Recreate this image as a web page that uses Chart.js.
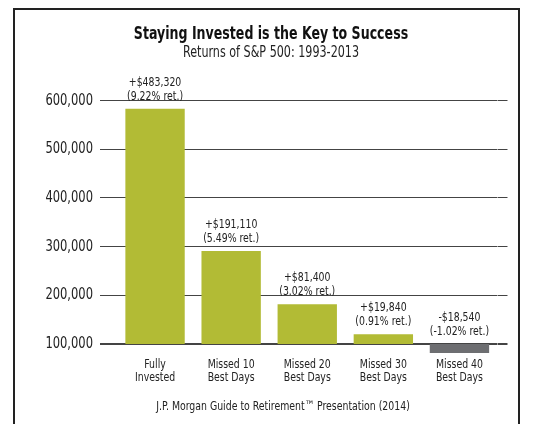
<!DOCTYPE html>
<html>
<head>
<meta charset="utf-8">
<script src="https://cdn.jsdelivr.net/npm/chart.js@4.4.1/dist/chart.umd.min.js"></script>
<style>
  body { margin: 0; background: #fff; }
  #frame { position: absolute; left: 13px; top: 8px; width: 503px; height: 440px; border: 2px solid #222; }
  #c { position: absolute; left: 0; top: 0; }
  #note { position: absolute; left: 0; width: 566px; top: 398px; text-align: center; color: #222;
          font: 13px 'Liberation Sans Narrow', 'DejaVu Sans Condensed', sans-serif;
          transform: scaleX(0.8); transform-origin: 283px 0; }
</style>
</head>
<body>
<div id="frame"></div>
<canvas id="c" width="542" height="424"></canvas>
<div id="note">J.P. Morgan Guide to Retirement™ Presentation (2014)</div>
<script>
// data
const categories = [['Fully', 'Invested'], ['Missed 10', 'Best Days'], ['Missed 20', 'Best Days'], ['Missed 30', 'Best Days'], ['Missed 40', 'Best Days']];
const gains = [483320, 191110, 81400, 19840, -18540];
const annualReturns = ['9.22%', '5.49%', '3.02%', '0.91%', '-1.02%'];
const startValue = 100000;
const yTickValues = [100000, 200000, 300000, 400000, 500000, 600000];

const FONT = "'Liberation Sans Narrow', 'DejaVu Sans Condensed', sans-serif";
const GREEN = '#b2bb35';
const GREY = '#6d6e71';
const SQUEEZE = 0.8; // no narrow font here, so squeeze the text a bit

// bars float from the starting 100,000
const barData = gains.map(g => [startValue, startValue + g]);
const barColors = gains.map(g => g >= 0 ? GREEN : GREY);

function money(g) {
    return (g >= 0 ? '+' : '-') + '$' + Math.abs(g).toLocaleString('en-US');
}

// makes every text on the canvas a bit narrower, keeps its anchor point
const condensed = {
    id: 'condensed',
    beforeDraw(chart) {
        const ctx = chart.ctx;
        if (ctx._squeezed) return;
        const orig = ctx.fillText;
        ctx.fillText = function (t, x, y, mw) {
            this.save();
            this.translate(x, y);
            this.scale(SQUEEZE, 1);
            orig.call(this, t, 0, 0, mw);
            this.restore();
        };
        ctx._squeezed = true;
    }
};

// two line labels above every bar
const barLabels = {
    id: 'barLabels',
    afterDatasetsDraw(chart) {
        const ctx = chart.ctx;
        const meta = chart.getDatasetMeta(0);
        ctx.save();
        ctx.font = '13px ' + FONT;
        ctx.fillStyle = '#222';
        ctx.textAlign = 'center';
        meta.data.forEach((bar, i) => {
            const top = Math.min(bar.y, bar.base);
            ctx.fillText(money(gains[i]), bar.x, top - 23);
            ctx.fillText('(' + annualReturns[i] + ' ret.)', bar.x, top - 9);
        });
        ctx.restore();
    }
};

function fixTicks(scale) {
    scale.ticks = yTickValues.map(v => ({ value: v }));
}

new Chart(document.getElementById('c'), {
    type: 'bar',
    data: {
        labels: categories,
        datasets: [{
            data: barData,
            backgroundColor: barColors,
            borderWidth: 0,
            categoryPercentage: 1,
            barPercentage: 0.78
        }]
    },
    options: {
        responsive: false,
        animation: false,
        layout: { padding: { left: 0, right: 0, top: 0, bottom: 0 } },
        plugins: {
            legend: { display: false },
            tooltip: { enabled: false },
            title: {
                display: true,
                text: 'Staying Invested is the Key to Success',
                color: '#111',
                font: { family: FONT, size: 17.5, weight: 'bold', lineHeight: 1.2 },
                padding: { top: 23.5, bottom: 0 }
            },
            subtitle: {
                display: true,
                text: 'Returns of S&P 500: 1993-2013',
                color: '#222',
                font: { family: FONT, size: 15.5, lineHeight: 1.1 },
                padding: { top: 0, bottom: 8 }
            }
        },
        scales: {
            x: {
                grid: { display: false },
                border: { display: false },
                ticks: {
                    color: '#222',
                    padding: -4,
                    maxRotation: 0,
                    font: { family: FONT, size: 13, lineHeight: 0.93 }
                },
                afterFit: s => { s.height = 69; }
            },
            y: {
                min: 77400,
                max: 663800,
                afterBuildTicks: fixTicks,
                border: { display: false },
                grid: {
                    color: '#444',
                    lineWidth: c => (c.tick && c.tick.value === startValue) ? 2 : 1,
                    drawTicks: true,
                    tickLength: 17
                },
                ticks: {
                    color: '#222',
                    padding: 7,
                    font: { family: FONT, size: 16 },
                    callback: v => v.toLocaleString('en-US')
                },
                afterFit: s => { s.width = 117; }
            },
            // only here to run the grid lines a bit past the last bar
            yRight: {
                position: 'right',
                min: 77400,
                max: 663800,
                afterBuildTicks: fixTicks,
                border: { display: false },
                grid: {
                    color: '#444',
                    lineWidth: c => (c.tick && c.tick.value === startValue) ? 2 : 1,
                    drawOnChartArea: false,
                    drawTicks: true,
                    tickLength: 10
                },
                ticks: { display: false },
                afterFit: s => { s.width = 44.5; }
            }
        }
    },
    plugins: [condensed, barLabels]
});
</script>
</body>
</html>
